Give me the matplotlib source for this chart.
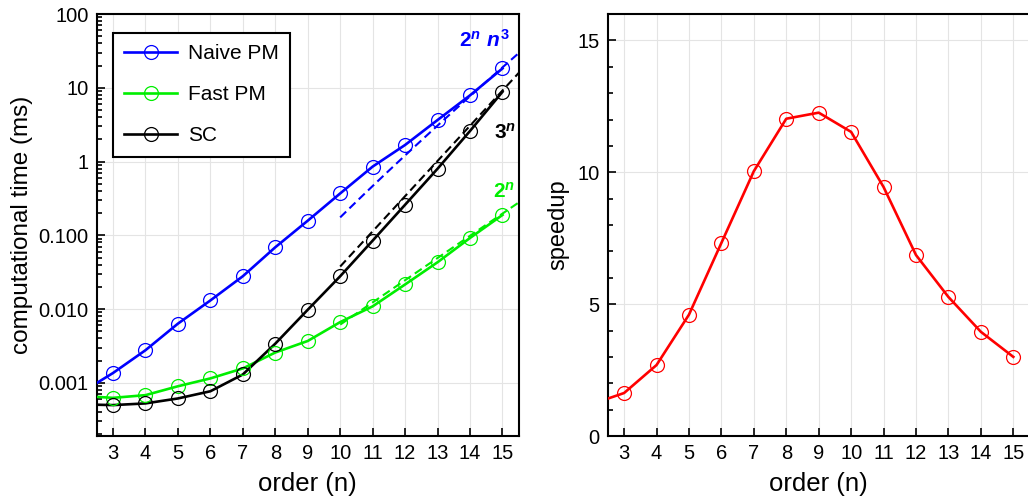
import numpy as np
import matplotlib
matplotlib.use("Agg")
import matplotlib.pyplot as plt
from matplotlib.ticker import FixedLocator, FixedFormatter, MultipleLocator, LogLocator, NullFormatter

plt.rcParams['font.family'] = ['Liberation Sans', 'DejaVu Sans']
plt.rcParams['mathtext.fontset'] = 'custom'
plt.rcParams['mathtext.rm'] = 'Liberation Sans:bold'
plt.rcParams['mathtext.bf'] = 'Liberation Sans:bold'
plt.rcParams['mathtext.it'] = 'Liberation Sans:italic:bold'

# ---- data ----
order = [3, 4, 5, 6, 7, 8, 9, 10, 11, 12, 13, 14, 15]
naive_pm = [1.36e-3, 2.77e-3, 6.35e-3, 0.0131, 0.0279, 0.0689, 0.158, 0.37, 0.855, 1.68, 3.66, 7.9, 18.3]
fast_pm = [6.27e-4, 6.82e-4, 9.0e-4, 1.15e-3, 1.57e-3, 2.58e-3, 3.7e-3, 6.67e-3, 0.0109, 0.0216, 0.0432, 0.0922, 0.189]
sc = [5.0e-4, 5.27e-4, 6.15e-4, 7.7e-4, 1.3e-3, 3.4e-3, 9.8e-3, 0.0279, 0.0848, 0.26, 0.80, 2.6, 8.83]
speedup = [1.63, 2.69, 4.6, 7.32, 10.04, 12.03, 12.26, 11.53, 9.44, 6.86, 5.27, 3.95, 3.0]

# asymptotic fit coefficients
c_2n_n3 = 1.71e-7
c_3n = 6.4e-7
c_2n = 6.02e-6
fit_start = 10

ytick_vals = [0.001, 0.01, 0.1, 1, 10, 100]
ytick_labels = ["0.001", "0.010", "0.100", "1", "10", "100"]

XMIN, XMAX = 2.5, 15.5


def extend_left(x, y, log=False):
    """quadratic extrapolation of the first three points to the left axis edge"""
    v = np.log10(y) if log else np.asarray(y, float)
    d1 = v[1] - v[0]
    d2 = v[2] - 2 * v[1] + v[0]
    t = XMIN - x[0]
    v0 = v[0] + t * d1 + t * (t - 1) / 2 * d2
    xe = [XMIN] + list(x)
    ye = [10 ** v0 if log else v0] + list(y)
    return xe, ye


fig = plt.figure(figsize=(10.28, 5.04), dpi=100)
ax1 = fig.add_axes([0.0941, 0.1349, 0.4105, 0.8373])
ax2 = fig.add_axes([0.5913, 0.1349, 0.4102, 0.8373])

lw = 1.9
ms = 10
mew = 0.9
dash = (0, (4, 2.2))

for data, col, lab in [(naive_pm, '#0000ff', 'Naive PM'),
                       (fast_pm, '#00ee00', 'Fast PM'),
                       (sc, 'black', 'SC')]:
    xe, ye = extend_left(order, data, log=True)
    ax1.plot(xe, ye, color=col, lw=lw, zorder=3)
    ax1.plot(order, data, linestyle='none', marker='o', ms=ms, mfc='none',
             mec=col, mew=mew, zorder=4)
    ax1.plot([], [], color=col, lw=lw, marker='o', ms=ms, mfc='none', mec=col,
             mew=mew, label=lab)

xf = np.linspace(fit_start, XMAX, 50)
ax1.plot(xf, c_2n_n3 * 2.0 ** xf * xf ** 3, color='#0000ff', ls=dash, lw=1.5, zorder=2)
ax1.plot(xf, c_3n * 3.0 ** xf, color='black', ls=dash, lw=1.5, zorder=2)
ax1.plot(xf, c_2n * 2.0 ** xf, color='#00ee00', ls=dash, lw=1.5, zorder=2)

ax1.text(14.45, 45, r'$2^{n}\ n^{3}$', color='#0000ff', fontsize=15, ha='center', va='center')
ax1.text(15.08, 2.5, r'$3^{n}$', color='black', fontsize=15, ha='center', va='center')
ax1.text(15.05, 0.39, r'$2^{n}$', color='#00ee00', fontsize=15, ha='center', va='center')

ax1.set_yscale('log')
ax1.set_xlim(XMIN, XMAX)
ax1.set_ylim(10 ** -3.72, 100)
ax1.yaxis.set_major_locator(FixedLocator(ytick_vals))
ax1.yaxis.set_major_formatter(FixedFormatter(ytick_labels))
ax1.yaxis.set_minor_locator(LogLocator(base=10, subs=np.arange(2, 10), numticks=20))
ax1.yaxis.set_minor_formatter(NullFormatter())
ax1.set_xticks(order)
ax1.set_ylabel('computational time (ms)', fontsize=17.5, labelpad=4)
ax1.set_xlabel('order (n)', fontsize=18.5, labelpad=6)

leg = ax1.legend(loc='upper left', bbox_to_anchor=(0.038, 0.955), borderaxespad=0,
                 fontsize=15, labelspacing=1.05, handlelength=2.55, handletextpad=0.5,
                 borderpad=0.55, fancybox=False, framealpha=1, edgecolor='black')
leg.get_frame().set_linewidth(1.5)

# speedup
xe, ye = extend_left(order, speedup, log=False)
ax2.plot(xe, ye, color='#ff0000', lw=lw, zorder=3)
ax2.plot(order, speedup, linestyle='none', marker='o', ms=ms, mfc='none', mec='#ff0000',
         mew=mew, zorder=4)
ax2.set_xlim(XMIN, XMAX)
ax2.set_ylim(0, 16)
ax2.set_xticks(order)
ax2.yaxis.set_major_locator(FixedLocator([0, 5, 10, 15]))
ax2.yaxis.set_minor_locator(MultipleLocator(1))
ax2.set_ylabel('speedup', fontsize=17, labelpad=6)
ax2.set_xlabel('order (n)', fontsize=18.5, labelpad=6)

for ax in (ax1, ax2):
    ax.grid(True, which='major', color='#e4e4e4', lw=0.8, zorder=0)
    ax.set_axisbelow(True)
    ax.tick_params(which='both', direction='in', labelsize=14.5, width=1.2, color='black')
    ax.tick_params(which='major', length=6, pad=6)
    ax.tick_params(which='minor', length=3.5)
    ax.tick_params(axis='x', which='minor', bottom=False)
    for s in ax.spines.values():
        s.set_linewidth(1.5)

fig.savefig('out.png', dpi=100)
